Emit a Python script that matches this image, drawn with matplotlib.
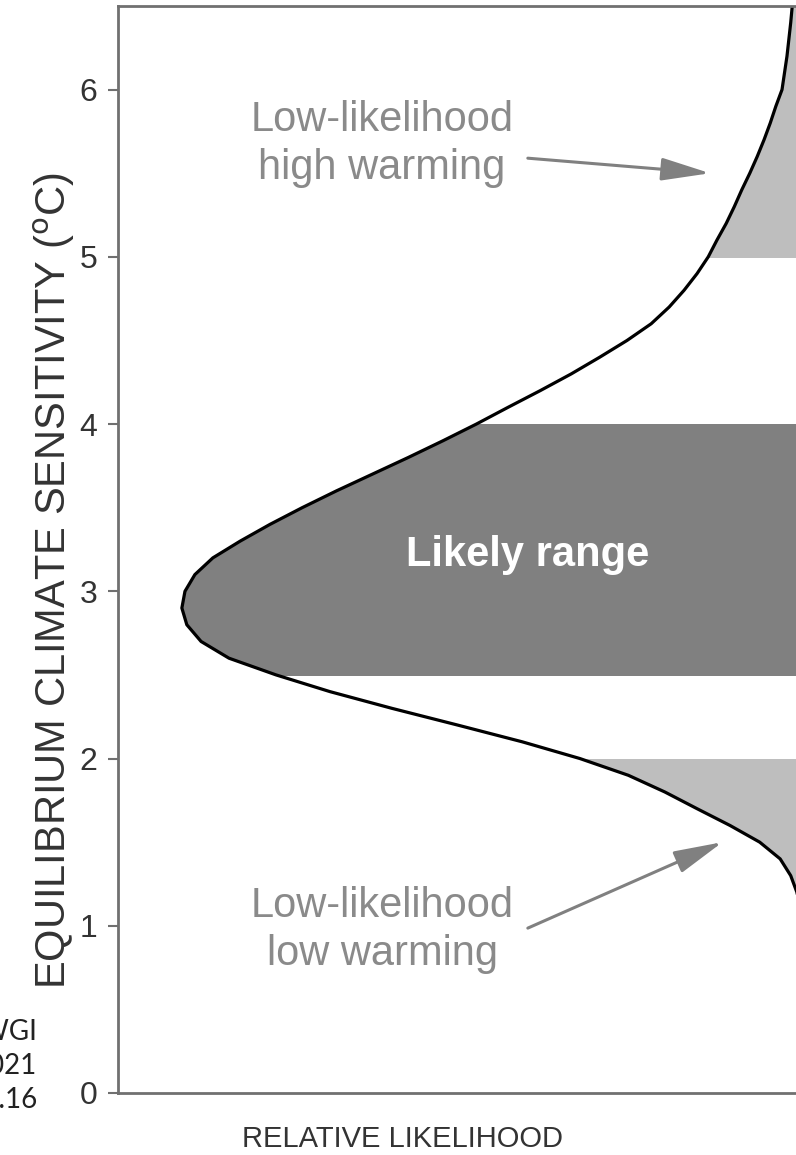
import matplotlib
matplotlib.use("Agg")
import matplotlib.pyplot as plt
from matplotlib.patches import Rectangle

# ECS value (deg C) and relative likelihood
ecs = [1.10, 1.20, 1.30, 1.40, 1.50, 1.60, 1.70, 1.80, 1.90, 2.00, 2.10, 2.20,
       2.30, 2.40, 2.50, 2.60, 2.70, 2.80, 2.90, 3.00, 3.10, 3.20, 3.30, 3.40,
       3.50, 3.60, 3.70, 3.80, 3.90, 4.00, 4.10, 4.20, 4.30, 4.40, 4.50, 4.60,
       4.70, 4.80, 4.90, 5.00, 5.10, 5.20, 5.30, 5.40, 5.50, 5.60, 5.70, 5.80,
       5.90, 6.00, 6.20, 6.40, 6.60]
likelihood = [0.000, 0.005, 0.015, 0.032, 0.065, 0.113, 0.166, 0.218, 0.277,
              0.355, 0.448, 0.552, 0.658, 0.758, 0.845, 0.921, 0.966, 0.989,
              0.997, 0.992, 0.976, 0.947, 0.903, 0.855, 0.803, 0.748, 0.690,
              0.632, 0.576, 0.522, 0.471, 0.419, 0.369, 0.323, 0.279, 0.240,
              0.211, 0.187, 0.166, 0.148, 0.134, 0.119, 0.106, 0.094, 0.081,
              0.069, 0.058, 0.048, 0.039, 0.029, 0.021, 0.015, 0.010]

# shaded ranges (lo, hi, colour)
bands = [(5.0, 6.5, "#bebebe"), (2.5, 4.0, "#808080"), (0.0, 2.0, "#bebebe")]
yticks = [0, 1, 2, 3, 4, 5, 6]

plt.rcParams["font.family"] = ["Liberation Sans", "DejaVu Sans"]

W, H = 796, 1155
fig = plt.figure(figsize=(W / 100, H / 100), dpi=100)
ax = fig.add_axes([118 / W, 62 / H, 682 / W, 1087 / H])

for lo, hi, col in bands:
    poly = ax.fill_betweenx(ecs, likelihood, 0, color=col, lw=0)
    rect = Rectangle((-1, lo), 3, hi - lo, transform=ax.transData)
    poly.set_clip_path(rect)

ax.plot(likelihood, ecs, color="black", lw=2.3)

ax.set_xlim(1.1, 0)
ax.set_ylim(0, 6.5)
ax.set_xticks([])
ax.set_yticks(yticks)
ax.tick_params(axis="y", length=7, width=1.5, color="#707070", pad=8,
               labelsize=23, labelcolor="#333333")
ax.spines["right"].set_visible(False)
for s in ["left", "top", "bottom"]:
    ax.spines[s].set_color("#707070")
    ax.spines[s].set_linewidth(2.0)

grey = "#8a8a8a"
ax.text(0.674, 5.675, "Low-likelihood\nhigh warming", ha="center", va="center",
        fontsize=30, color=grey, linespacing=1.25)
ax.text(0.674, 0.974, "Low-likelihood\nlow warming", ha="center", va="center",
        fontsize=30, color=grey, linespacing=1.25)
arrow = dict(arrowstyle="-|>,head_length=3.0,head_width=0.7", color="#808080",
             lw=2.2, shrinkA=0, shrinkB=0)
ax.annotate("", xy=(0.145, 5.50), xytext=(0.439, 5.59), arrowprops=arrow)
ax.annotate("", xy=(0.125, 1.50), xytext=(0.439, 0.986), arrowprops=arrow)

ax.text(0.440, 3.22, "Likely range", ha="center", va="center", fontsize=30,
        fontweight="bold", color="white")

fig.text(54 / W, 1 - 581 / H, "EQUILIBRIUM CLIMATE SENSITIVITY ($^{\\rm o}$C)",
         rotation=90, ha="center", va="center", fontsize=30, color="#333333")
fig.text(402 / W, 16 / H, "RELATIVE LIKELIHOOD", ha="center", va="center",
         fontsize=21, color="#333333")

fig.text(37 / W, 1 - 1108 / H, "IPCC AR6 WGI\n2021\nFig. 7.16", ha="right",
         va="baseline", fontsize=20, family=["Lato", "DejaVu Sans"],
         color="#222222", linespacing=1.39)

fig.savefig("out.png", dpi=100)
